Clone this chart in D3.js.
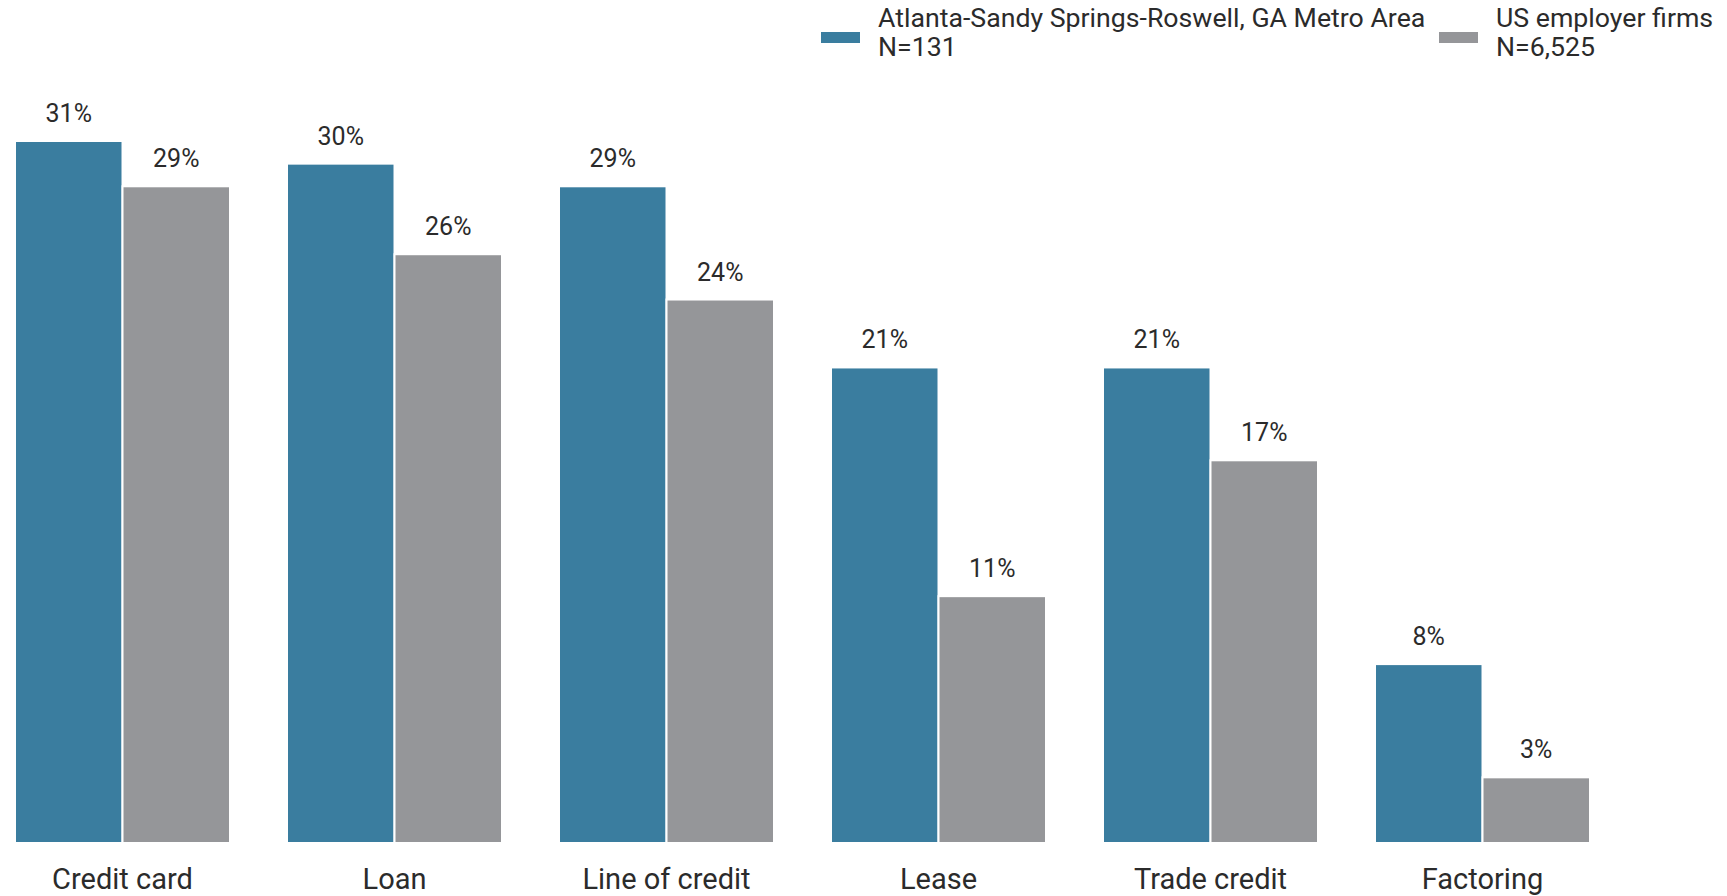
<!DOCTYPE html>
<html>
<head>
<meta charset="utf-8">
<script src="https://cdn.jsdelivr.net/npm/d3@7"></script>
<style>
  body { margin: 0; background: #fff; }
  svg { display: block; font-family: Roboto, "Noto Sans", sans-serif; }
</style>
</head>
<body>
<div id="chart"></div>
<script>
// data (percent of firms)
var categories = ["Credit card", "Loan", "Line of credit", "Lease", "Trade credit", "Factoring"];
var seriesNames = ["Atlanta-Sandy Springs-Roswell, GA Metro Area", "US employer firms"];
var seriesN = ["N=131", "N=6,525"];
var atlantaValues = [31, 30, 29, 21, 21, 7.9];
var usValues = [29, 26, 24, 10.9, 16.9, 2.9];
var colors = ["#3a7d9f", "#959699"];

var width = 1727, height = 896;
var baseY = 843;

var svg = d3.select("#chart").append("svg")
    .attr("width", width)
    .attr("height", height);

var x0 = d3.scaleBand()
    .domain(categories)
    .range([15, 1590])
    .paddingInner(57 / 272)
    .paddingOuter(0);

var x1 = d3.scaleBand()
    .domain([0, 1])
    .range([0, x0.bandwidth()])
    .padding(0);

var y = d3.scaleLinear()
    .domain([0, 31])
    .range([baseY, 141]);

var rows = categories.map(function(c, i) {
    return {cat: c, vals: [atlantaValues[i], usValues[i]]};
});

var groups = svg.selectAll("g.grp")
    .data(rows)
    .join("g")
    .attr("class", "grp")
    .attr("transform", function(d) { return "translate(" + x0(d.cat) + ",0)"; });

groups.selectAll("rect")
    .data(function(d) { return d.vals; })
    .join("rect")
    .attr("x", function(d, i) { return x1(i); })
    .attr("y", function(d) { return y(d); })
    .attr("width", x1.bandwidth())
    .attr("height", function(d) { return baseY - y(d); })
    .attr("fill", function(d, i) { return colors[i]; })
    .attr("stroke", "#fff")
    .attr("stroke-width", 2);

groups.selectAll("text.val")
    .data(function(d) { return d.vals; })
    .join("text")
    .attr("class", "val")
    .attr("x", function(d, i) { return x1(i) + x1.bandwidth() / 2; })
    .attr("y", function(d) { return y(d) - 19; })
    .attr("text-anchor", "middle")
    .attr("font-size", 25)
    .attr("fill", "#2b2b2b")
    .text(function(d) { return Math.round(d) + "%"; });

// category axis labels
var xAxis = svg.append("g")
    .attr("transform", "translate(0," + baseY + ")")
    .call(d3.axisBottom(x0).tickSize(0).tickPadding(46));
xAxis.select(".domain").remove();
xAxis.selectAll("text")
    .attr("dy", 0)
    .attr("font-size", 29)
    .attr("font-family", "Roboto, sans-serif")
    .attr("fill", "#2b2b2b");

// legend
var legendX = [821, 1439];
var legend = svg.selectAll("g.leg")
    .data(seriesNames)
    .join("g")
    .attr("class", "leg")
    .attr("transform", function(d, i) { return "translate(" + legendX[i] + ",0)"; });

legend.append("rect")
    .attr("x", 0)
    .attr("y", 32)
    .attr("width", 39)
    .attr("height", 11)
    .attr("fill", function(d, i) { return colors[i]; });

var ltext = legend.append("text")
    .attr("x", 57)
    .attr("font-size", 26.7)
    .attr("fill", "#2b2b2b");
ltext.append("tspan")
    .attr("x", 57)
    .attr("y", 27)
    .text(function(d) { return d; });
ltext.append("tspan")
    .attr("x", 57)
    .attr("y", 56)
    .text(function(d, i) { return seriesN[i]; });
</script>
</body>
</html>
